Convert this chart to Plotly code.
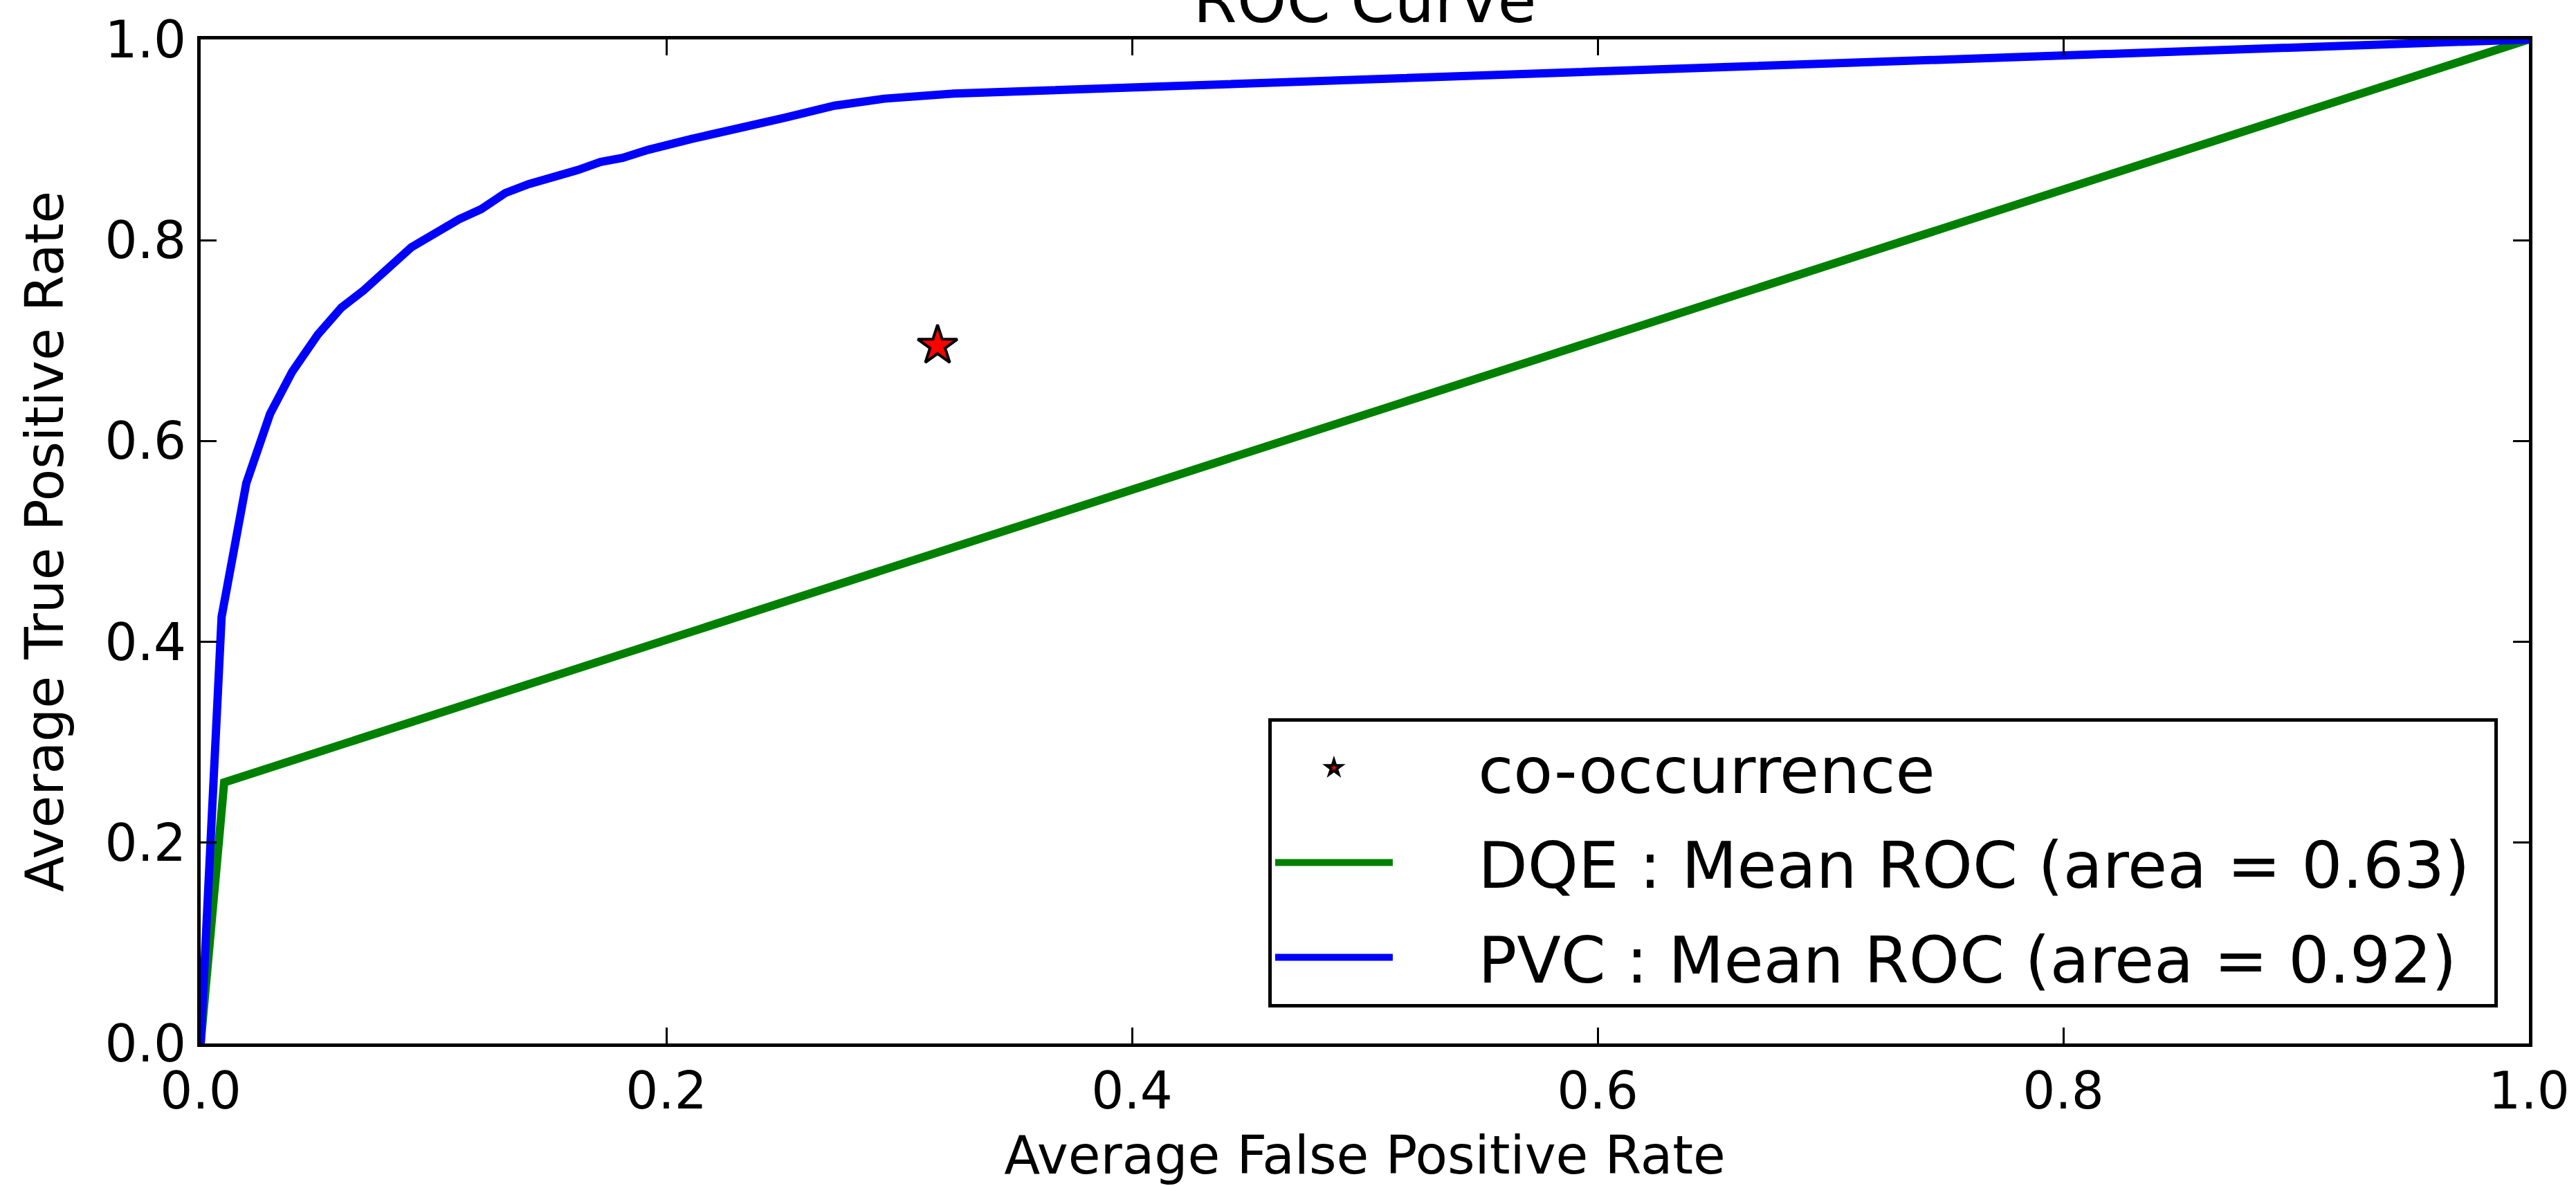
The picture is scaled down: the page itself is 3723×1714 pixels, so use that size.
import plotly.graph_objects as go

# ---- data ----
pvc_fpr = [0.0, 0.009, 0.0196, 0.0298, 0.0393, 0.0503, 0.0605, 0.0700, 0.0905,
           0.1110, 0.1205, 0.1308, 0.1410, 0.1512, 0.1621, 0.1717, 0.1812,
           0.1921, 0.2017, 0.2110, 0.2509, 0.2722, 0.2936, 0.3120, 0.3234, 1.0]
pvc_tpr = [0.0, 0.425, 0.558, 0.627, 0.669, 0.706, 0.733, 0.750, 0.793,
           0.821, 0.831, 0.847, 0.856, 0.862, 0.870, 0.878, 0.882,
           0.890, 0.896, 0.901, 0.922, 0.934, 0.941, 0.943, 0.946, 1.0]

dqe_fpr = [0.0, 0.0101, 1.0]
dqe_tpr = [0.0, 0.260, 1.0]

cooc_fpr = [0.3165]
cooc_tpr = [0.695]

tick_vals = [0.0, 0.2, 0.4, 0.6, 0.8, 1.0]
tick_text = ["0.0", "0.2", "0.4", "0.6", "0.8", "1.0"]

names = ["co-occurrence",
         "DQE : Mean ROC (area = 0.63)",
         "PVC : Mean ROC (area = 0.92)"]

FONT = "DejaVu Sans"
GAP = "\u00a0\u00a0\u00a0\u00a0"
TAIL = "\u00a0"

fig = go.Figure()
fig.add_trace(go.Scatter(
    x=dqe_fpr, y=dqe_tpr, mode="lines", name=GAP + names[1] + TAIL,
    legendgroup="b", legendrank=2,
    line=dict(color="#008000", width=12),
))
fig.add_trace(go.Scatter(
    x=pvc_fpr, y=pvc_tpr, mode="lines", name=GAP + names[2] + TAIL,
    legendgroup="c", legendrank=3,
    line=dict(color="#0000ff", width=12),
))
fig.add_trace(go.Scatter(
    x=cooc_fpr, y=cooc_tpr, mode="markers", name=GAP + names[0],
    legendgroup="a", legendrank=1,
    marker=dict(symbol="star", size=43, color="#ff0000",
                line=dict(color="black", width=4)),
))

axis_common = dict(
    range=[0, 1], showgrid=False, zeroline=False,
    showline=True, linecolor="black", linewidth=5, mirror="allticks",
    ticks="inside", ticklen=23, tickwidth=3, tickcolor="black",
    tickvals=tick_vals, ticktext=tick_text,
    tickfont=dict(family=FONT, size=74, color="black"),
)

fig.update_layout(
    width=3723, height=1714,
    paper_bgcolor="white", plot_bgcolor="white",
    margin=dict(l=290, r=68, t=57, b=206, autoexpand=False),
    font=dict(family=FONT, color="black"),
    xaxis=dict(**axis_common, ticklabelstandoff=0,
               title=dict(text="Average False Positive Rate",
                          font=dict(family=FONT, size=76, color="black"),
                          standoff=40)),
    yaxis=dict(**axis_common, ticklabelstandoff=1,
               title=dict(text="Average True Positive Rate",
                          font=dict(family=FONT, size=76, color="black"),
                          standoff=36)),
    title=dict(text="ROC Curve", x=0.5, xanchor="center",
               xref="paper", yref="paper", y=1, yanchor="bottom",
               pad=dict(b=25),
               font=dict(family=FONT, size=91, color="black")),
    showlegend=True,
    legend=dict(
        x=0.9866, xanchor="right", y=0.036, yanchor="bottom",
        bgcolor="white", bordercolor="black", borderwidth=5,
        font=dict(family=FONT, size=93, color="black"),
        itemwidth=170, traceorder="grouped", tracegroupgap=13,
        itemsizing="trace",
    ),
)

fig.write_html("out.html", config={"displayModeBar": False},
               post_script="document.body.style.margin='0';")
